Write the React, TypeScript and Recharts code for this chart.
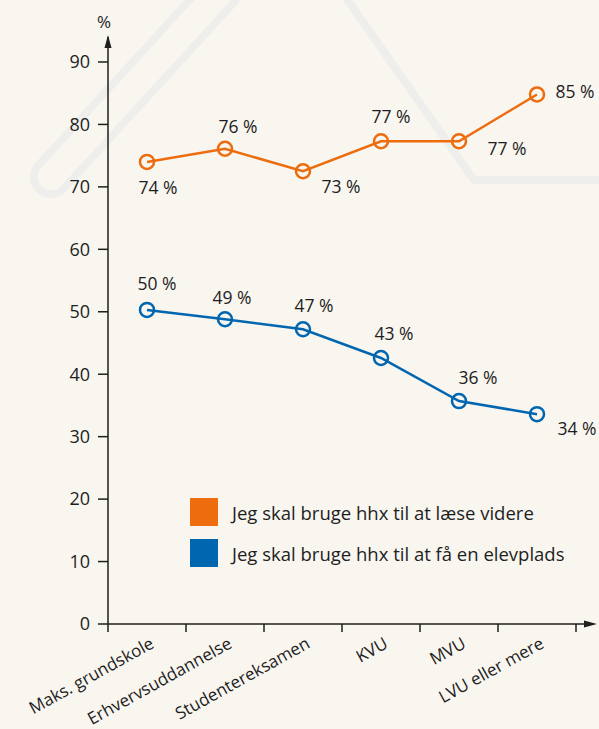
import { LineChart, Line, XAxis, YAxis, LabelList } from "recharts";

const categories = [
  "Maks. grundskole",
  "Erhvervsuddannelse",
  "Studentereksamen",
  "KVU",
  "MVU",
  "LVU eller mere",
];
const laeseVidere = [74, 76.1, 72.5, 77.3, 77.3, 84.8];
const elevplads = [50.3, 48.8, 47.2, 42.6, 35.7, 33.6];
const laeseLabels = ["74 %", "76 %", "73 %", "77 %", "77 %", "85 %"];
const elevLabels = ["50 %", "49 %", "47 %", "43 %", "36 %", "34 %"];
const seriesNames = [
  "Jeg skal bruge hhx til at læse videre",
  "Jeg skal bruge hhx til at få en elevplads",
];
const yTicks = [0, 10, 20, 30, 40, 50, 60, 70, 80, 90];
const xTicks = [0, 0.5, 1, 1.5, 2, 2.5, 3, 3.5, 4, 4.5, 5, 5.5, 6];

const ORANGE = "#ec6c0e";
const BLUE = "#0066b0";
const BG = "#f9f6f0";
const INK = "#1e1e1e";
const FONT = "'Open Sans', sans-serif";

// label centre offsets from each point
const orangeOffsets = [
  [11, 25], [13, -23], [38, 15], [10, -25], [48, 7], [38, -3],
];
const blueOffsets = [
  [10, -27], [7, -22], [11, -24], [13, -25], [19, -24], [40, 14],
];

const rows = categories.map((name, i) => ({
  x: i + 0.5,
  name,
  a: laeseVidere[i],
  b: elevplads[i],
  la: laeseLabels[i],
  lb: elevLabels[i],
}));

const makeLabel = (offsets: number[][]) => (props: any) => {
  const { x, y, index, value } = props;
  const [dx, dy] = offsets[index] || [0, -20];
  return (
    <text
      x={x + dx}
      y={y + dy}
      textAnchor="middle"
      dominantBaseline="central"
      fontSize={17.5}
      fontFamily={FONT}
      fill={INK}
    >
      {value}
    </text>
  );
};

const XTick = (props: any) => {
  const { x, y, payload } = props;
  const v = payload.value;
  if (Number.isInteger(v)) {
    return <line x1={x} x2={x} y1={y} y2={y + 8} stroke={INK} strokeWidth={1.5} />;
  }
  const label = categories[Math.floor(v)];
  const ax = x + 8;
  const ay = y + 23;
  return (
    <text
      x={ax}
      y={ay}
      textAnchor="end"
      fontSize={17}
      fontFamily={FONT}
      fill={INK}
      transform={`rotate(-29 ${ax} ${ay})`}
    >
      {label}
    </text>
  );
};

const LegendBox = () => (
  <div style={{ position: "absolute", left: 190, top: 498, fontFamily: FONT, fontSize: 18.5, color: INK }}>
    {seriesNames.map((n, i) => (
      <div key={n} style={{ display: "flex", alignItems: "center", height: 28, marginBottom: 13 }}>
        <div style={{ width: 28, height: 28, background: i === 0 ? ORANGE : BLUE, marginRight: 14 }} />
        <span>{n}</span>
      </div>
    ))}
  </div>
);

export default function App() {
  return (
    <div style={{ position: "absolute", left: 0, top: 0, width: 599, height: 729, background: BG, overflow: "hidden" }}>
      <svg width={599} height={729} style={{ position: "absolute", left: 0, top: 0 }}>
        <path d="M 222 -10 L 51 177" stroke="#eeeeec" strokeWidth={42} strokeLinecap="round" fill="none" />
        <path d="M 222 -10 L 51 177" stroke={BG} strokeWidth={27} strokeLinecap="round" fill="none" />
        <path d="M 344 -5 L 474 180 L 610 180" stroke="#eeeeec" strokeWidth={8} strokeLinejoin="round" fill="none" />
      </svg>
      <div style={{ position: "absolute", left: 0, top: 0 }}>
        <LineChart
          width={599}
          height={729}
          data={rows}
          margin={{ top: 37, right: 7.4, bottom: 0, left: 48 }}
        >
          <XAxis
            type="number"
            dataKey="x"
            domain={[0, 6.2]}
            ticks={xTicks}
            interval={0}
            tick={<XTick />}
            tickLine={false}
            tickSize={0}
            tickMargin={0}
            height={105}
            axisLine={{ stroke: INK, strokeWidth: 1.5 }}
            allowDataOverflow
          />
          <YAxis
            type="number"
            domain={[0, 94]}
            ticks={yTicks}
            interval={0}
            width={60}
            tickSize={10}
            tickMargin={8}
            tick={{ fontSize: 18, fontFamily: FONT, fill: INK }}
            tickLine={{ stroke: INK, strokeWidth: 1.5 }}
            axisLine={{ stroke: INK, strokeWidth: 1.5 }}
            allowDataOverflow
          />
          <Line
            dataKey="a"
            name={seriesNames[0]}
            stroke={ORANGE}
            strokeWidth={2.5}
            dot={{ r: 7, stroke: ORANGE, strokeWidth: 2.5, fill: "none" }}
            isAnimationActive={false}
          >
            <LabelList dataKey="la" content={makeLabel(orangeOffsets)} />
          </Line>
          <Line
            dataKey="b"
            name={seriesNames[1]}
            stroke={BLUE}
            strokeWidth={2.5}
            dot={{ r: 7, stroke: BLUE, strokeWidth: 2.5, fill: "none" }}
            isAnimationActive={false}
          >
            <LabelList dataKey="lb" content={makeLabel(blueOffsets)} />
          </Line>
        </LineChart>
      </div>
      <LegendBox />
      <svg width={599} height={729} style={{ position: "absolute", left: 0, top: 0, pointerEvents: "none" }}>
        <polygon points="108,35 104.5,48 111.5,48" fill={INK} />
        <polygon points="597,624 584,620.5 584,627.5" fill={INK} />
        <text x={97} y={28} fontSize={17} fontFamily={FONT} fill={INK}>%</text>
      </svg>
    </div>
  );
}
